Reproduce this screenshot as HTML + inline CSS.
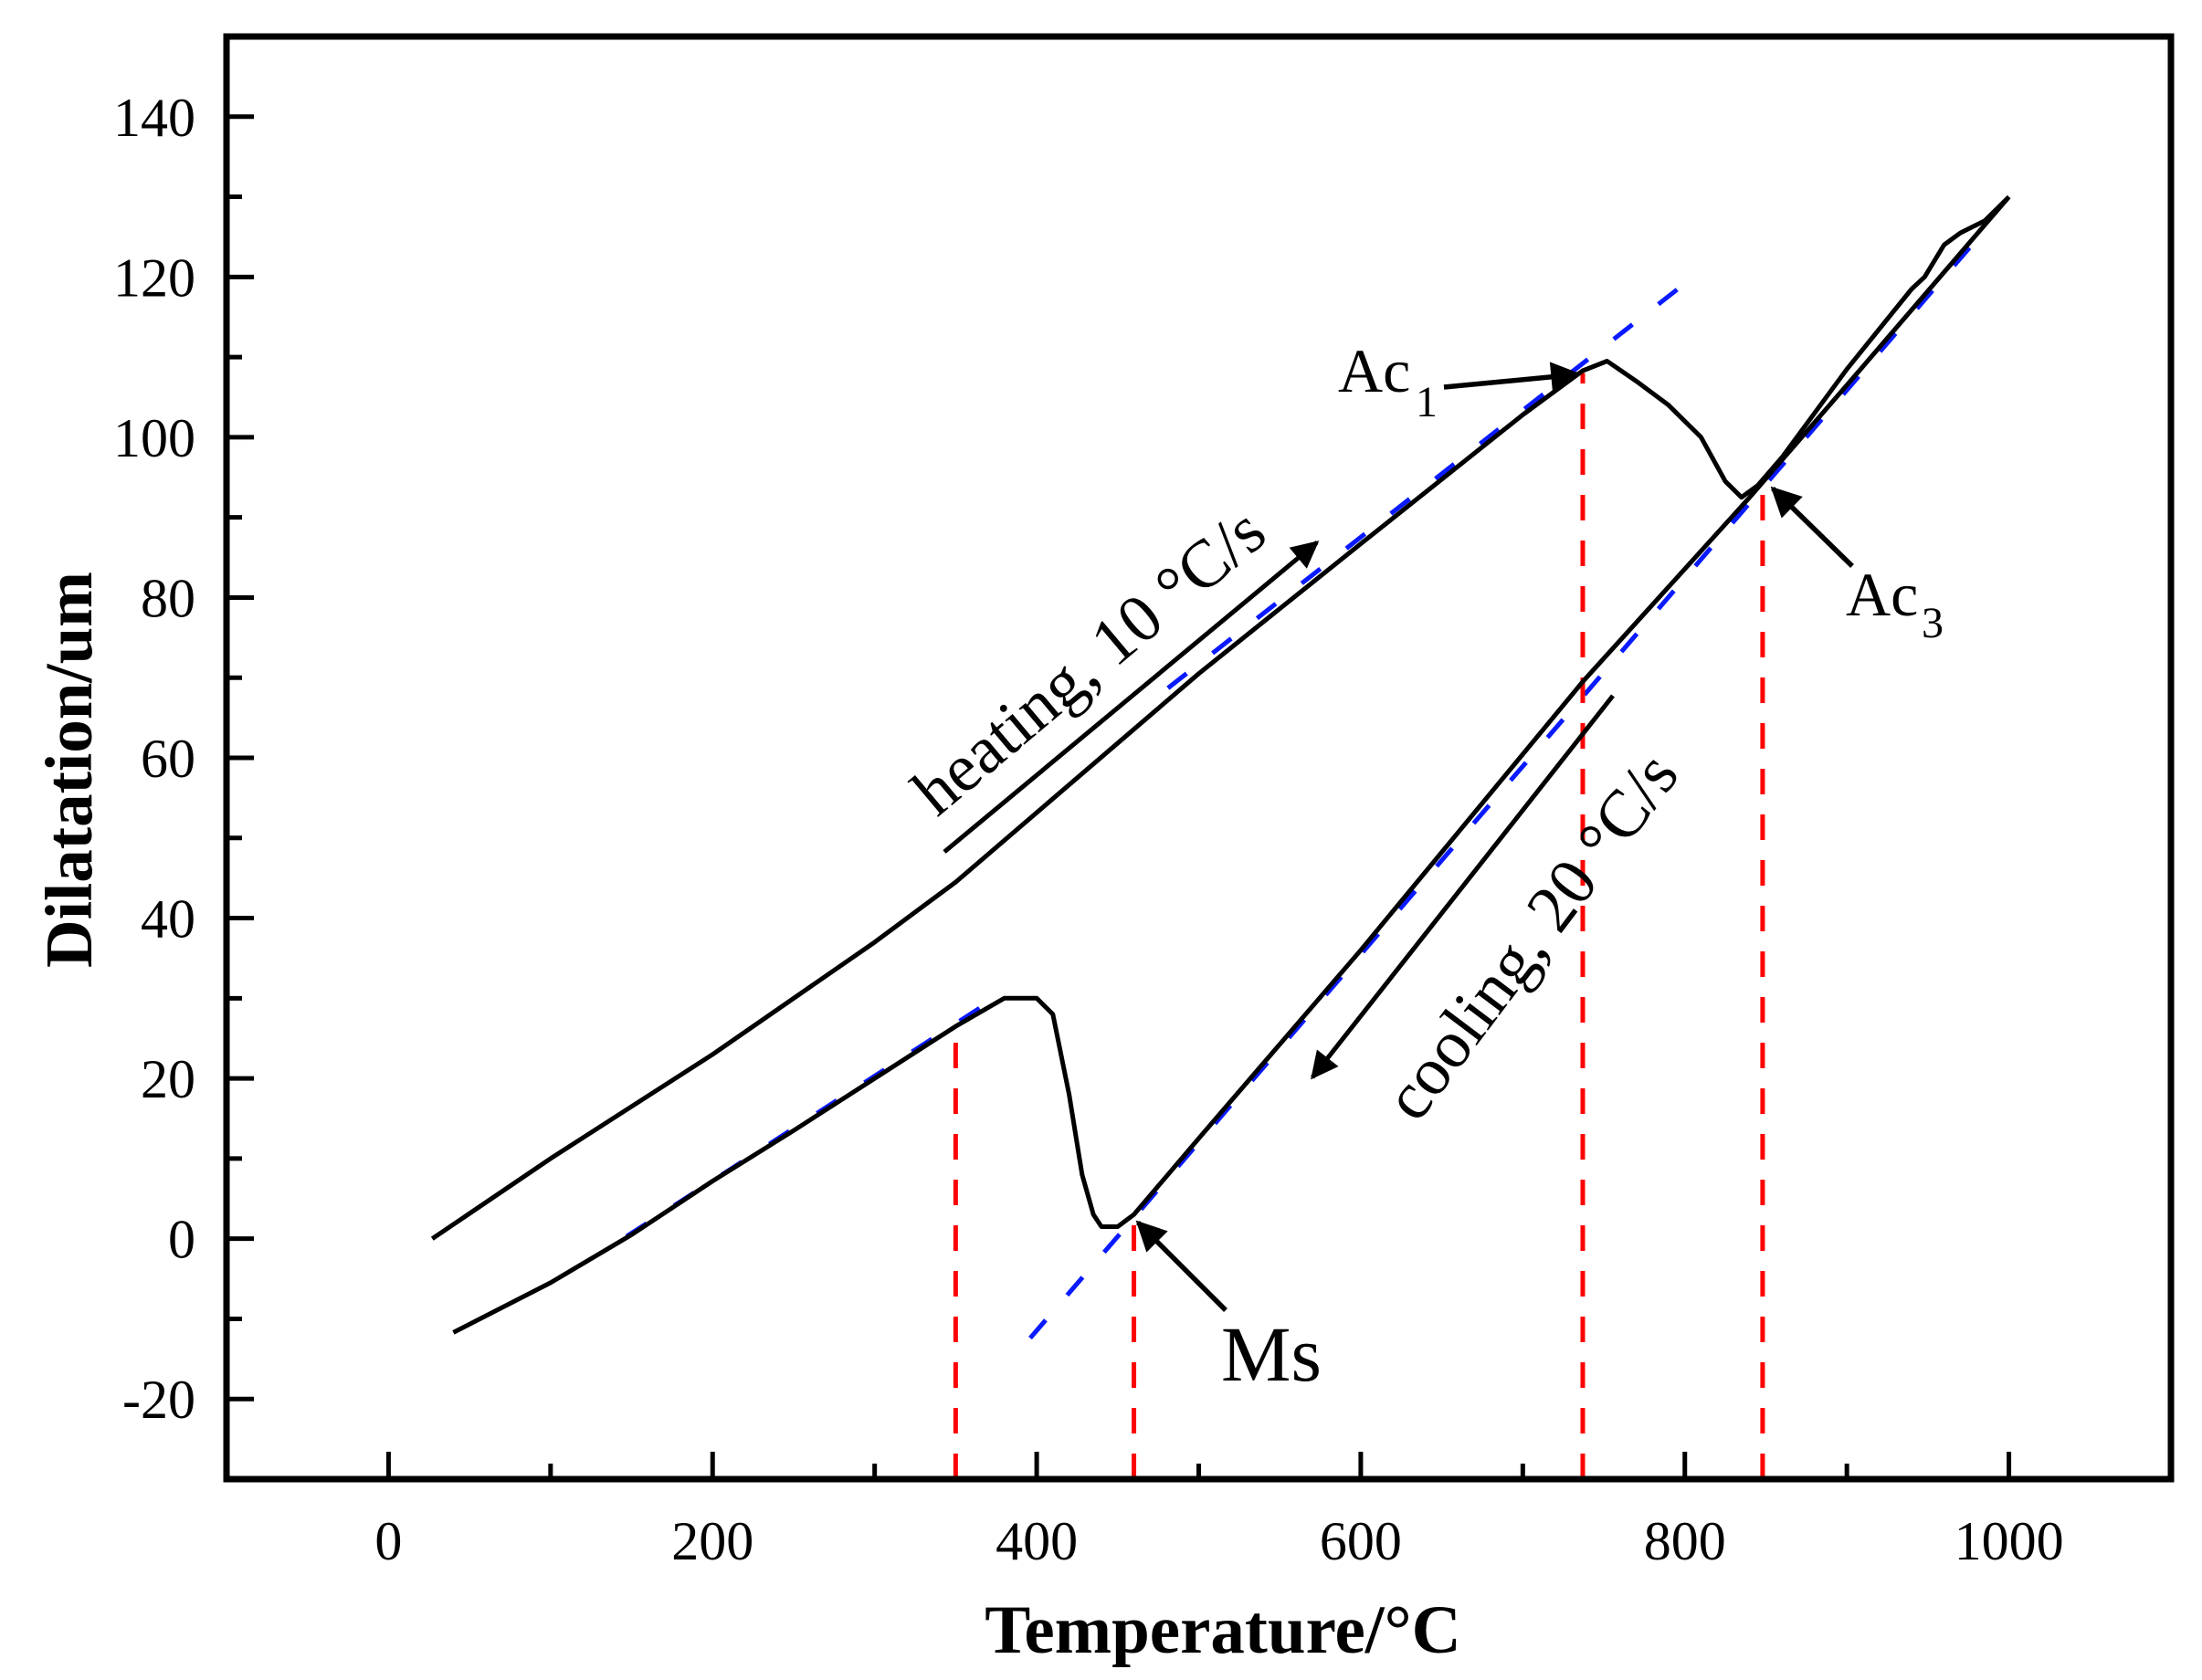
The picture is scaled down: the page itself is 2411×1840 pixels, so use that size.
<!DOCTYPE html>
<html><head><meta charset="utf-8"><style>
html,body{margin:0;padding:0;background:#fff}
svg{display:block}
text{font-family:"Liberation Serif",serif;fill:#000}
</style></head><body>
<svg id="chart" width="2411" height="1840" viewBox="0 0 2411 1840" xmlns="http://www.w3.org/2000/svg">
<defs>
<marker id="ah" viewBox="0 0 10 10" refX="9" refY="5" markerWidth="9" markerHeight="6" orient="auto" markerUnits="strokeWidth"><path d="M0,0 L10,5 L0,10 z" fill="#000"/></marker>
</defs>
<rect x="0" y="0" width="2411" height="1840" fill="#fff"/>
<g id="marks"></g>
<g id="axes"></g>
<g id="annot">
<text x="1465" y="429" font-size="68">Ac</text>
<text x="1550" y="456" font-size="48">1</text>
<line x1="1581" y1="424" x2="1728" y2="410" stroke="#000" stroke-width="5.5" marker-end="url(#ah)"/>
<text x="2021" y="674" font-size="68">Ac</text>
<text x="2104" y="698" font-size="48">3</text>
<line x1="2028" y1="620" x2="1941" y2="535" stroke="#000" stroke-width="5.5" marker-end="url(#ah)"/>
<text x="1337" y="1512" font-size="86">Ms</text>
<line x1="1342" y1="1435" x2="1246" y2="1339" stroke="#000" stroke-width="5.5" marker-end="url(#ah)"/>
<line x1="1034" y1="933" x2="1442" y2="594" stroke="#000" stroke-width="5" marker-end="url(#ah)"/>
<text font-size="74" text-anchor="middle" transform="translate(1208,743) rotate(-40)">heating, 10 °C/s</text>
<line x1="1766" y1="762" x2="1437" y2="1180" stroke="#000" stroke-width="5" marker-end="url(#ah)"/>
<text font-size="74" text-anchor="middle" transform="translate(1696,1040) rotate(-53)">cooling, 20 °C/s</text>
<text x="1339" y="1810" font-size="75" font-weight="bold" text-anchor="middle">Temperature/°C</text>
<text font-size="73" font-weight="bold" text-anchor="middle" transform="translate(100,843) rotate(-90)">Dilatation/um</text>
</g>
</svg>
<script>
const heatT = [27,100,200,300,350,500,600,700,737,752,770,790,810,825,835,845,860,900,940,948,960,970,985,1000];
const heatD = [0,10,23,37,44.5,70.5,86.7,102.8,108.3,109.5,107,104,100,94.5,92.5,94,97.5,108.5,118.5,120,124,125.5,127,130];
const coolT = [1000,900,840,737,600,500,460,450,440,435,428,420,410,400,390,380,350,300,250,200,150,100,40];
const coolD = [130,106.5,92.5,69.5,36,12.5,3,1.5,1.5,3,8,18,28,30,30,30,26.5,20,13.5,7.2,0.5,-5.5,-11.7];
const tangentNames = ['tangent-heating','tangent-cooling-austenite','tangent-martensite'];
const tangentT = [[481,802],[396,984],[147,378]];
const tangentD = [[68.7,119.5],[-12.4,125.6],[0.3,30.5]];
const markNames = ['ms-350-line','ms-460-line','ac1-line','ac3-line'];
const markT = [350,460,737,848];
const markD = [26,2.5,108,94];
const xTicks = [0,200,400,600,800,1000];
const xTickLabels = ['0','200','400','600','800','1000'];
const yTicks = [-20,0,20,40,60,80,100,120,140];
const yTickLabels = ['-20','0','20','40','60','80','100','120','140'];
const X0=248,X1=2377,Y0=1620,Y1=40,XMIN=-100,XMAX=1100,YMIN=-30,YMAX=150;
function X(v){return X0+(v-XMIN)*(X1-X0)/(XMAX-XMIN);}
function Y(v){return Y0-(v-YMIN)*(Y0-Y1)/(YMAX-YMIN);}
const NS='http://www.w3.org/2000/svg';
const marks=document.getElementById('marks'), axes=document.getElementById('axes');
function mk(tag,attrs,parent){const e=document.createElementNS(NS,tag);for(const k in attrs)e.setAttribute(k,attrs[k]);parent.appendChild(e);return e;}
for(let i=0;i<tangentT.length;i++){
 const l=mk('line',{x1:X(tangentT[i][0]),y1:Y(tangentD[i][0]),x2:X(tangentT[i][1]),y2:Y(tangentD[i][1]),stroke:'#0a1aff','stroke-width':5,'stroke-dasharray':'26 36'},marks);
 
 
}
for(let i=0;i<markT.length;i++){
 const l=mk('line',{x1:X(markT[i]),y1:Y0,x2:X(markT[i]),y2:Y(markD[i]),stroke:'#ff0000','stroke-width':5,'stroke-dasharray':'28 22'},marks);
 
 
}
function poly(T,D){return T.map((t,i)=>X(t).toFixed(1)+','+Y(D[i]).toFixed(1)).join(' ');}
const hc=mk('polyline',{points:poly(heatT,heatD),fill:'none',stroke:'#000','stroke-width':5,'stroke-linejoin':'round'},marks);


const cc=mk('polyline',{points:poly(coolT,coolD),fill:'none',stroke:'#000','stroke-width':5,'stroke-linejoin':'round'},marks);


const fr=mk('rect',{x:X0,y:Y1,width:X1-X0,height:Y0-Y1,fill:'none',stroke:'#000','stroke-width':7},axes);


for(let v=-100;v<=1000;v+=100){
 const major=xTicks.indexOf(v)>=0;
 const t=mk('line',{x1:X(v),y1:Y0,x2:X(v),y2:Y0-(major?30:17),stroke:'#000','stroke-width':5},axes);
 
 
}
xTicks.forEach((v,i)=>{
 const t=mk('text',{x:X(v),y:1708,'font-size':60,'text-anchor':'middle'},axes);
 t.textContent=xTickLabels[i];
 
 
});
for(let v=-30;v<=150;v+=10){
 const major=yTicks.indexOf(v)>=0;
 const t=mk('line',{x1:X0,y1:Y(v),x2:X0+(major?30:17),y2:Y(v),stroke:'#000','stroke-width':5},axes);
 
 
}
yTicks.forEach((v,i)=>{
 const t=mk('text',{x:214,y:Y(v)+21,'font-size':60,'text-anchor':'end'},axes);
 t.textContent=yTickLabels[i];
 
 
});
</script>
</body></html>
